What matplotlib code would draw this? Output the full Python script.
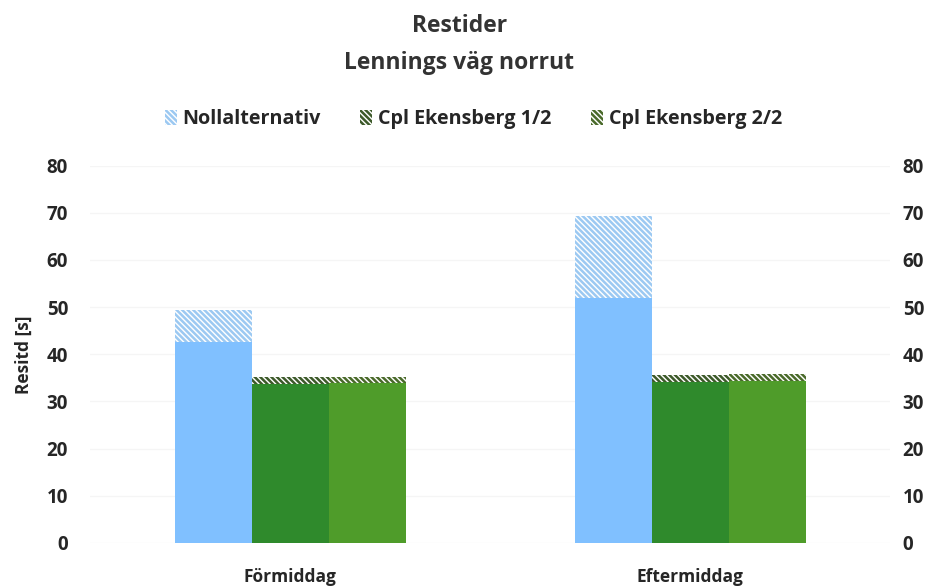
import matplotlib
matplotlib.use("Agg")
import matplotlib.pyplot as plt
import numpy as np
from matplotlib.patches import Patch

categories = ["Förmiddag", "Eftermiddag"]
series = ["Nollalternativ", "Cpl Ekensberg 1/2", "Cpl Ekensberg 2/2"]
base_values = {
    "Nollalternativ": [42.7, 52.0],
    "Cpl Ekensberg 1/2": [33.8, 34.2],
    "Cpl Ekensberg 2/2": [34.0, 34.3],
}
total_values = {
    "Nollalternativ": [49.4, 69.3],
    "Cpl Ekensberg 1/2": [35.1, 35.7],
    "Cpl Ekensberg 2/2": [35.2, 35.9],
}
yticks = [0, 10, 20, 30, 40, 50, 60, 70, 80]

solid_colors = ["#80c0ff", "#2f8a2c", "#4f9c2a"]
hatch_colors = ["#9cc9f2", "#3d5a2a", "#4a6a2a"]

plt.rcParams['font.family'] = ['Open Sans', 'DejaVu Sans']
plt.rcParams['hatch.linewidth'] = 1.8

fig = plt.figure(figsize=(9.41, 5.87), dpi=100)
ax = fig.add_axes([0.096, 0.075, 0.85, 0.643])
text_color = "#262626"
HATCH = "\\\\\\\\\\\\"

x = np.arange(len(categories))
w = 0.1925
offsets = [-w, 0, w]
for i, s in enumerate(series):
    base = np.array(base_values[s])
    top = np.array(total_values[s]) - base
    ax.bar(x + offsets[i], base, width=w, color=solid_colors[i], linewidth=0)
    ax.bar(x + offsets[i], top, width=w, bottom=base, color="white",
           edgecolor=hatch_colors[i], hatch=HATCH, linewidth=0)

ax.set_xlim(-0.5, 1.5)
ax.set_ylim(0, 80)
ax.set_yticks(yticks)
ax.set_xticks(x)
ax.set_xticklabels(categories, fontsize=12.5, fontweight='bold', color=text_color)
ax.tick_params(axis='both', length=0, labelsize=13.5, labelcolor=text_color)
for lab in ax.get_yticklabels():
    lab.set_fontweight('bold')
ax.tick_params(axis='y', pad=16)
ax.tick_params(axis='x', pad=18)
ax.tick_params(axis='x', labelsize=12.5)
ax.grid(axis='y', color="#f5f5f5", linewidth=1)
ax.set_axisbelow(True)
for sp in ax.spines.values():
    sp.set_visible(False)
ax.set_ylabel("Resitd [s]", fontsize=12.5, fontweight='bold', color=text_color, labelpad=10)

ax2 = ax.twinx()
ax2.set_ylim(0, 80)
ax2.set_yticks(yticks)
ax2.tick_params(axis='y', length=0, labelsize=13.5, labelcolor=text_color, pad=9)
for lab in ax2.get_yticklabels():
    lab.set_fontweight('bold')
for sp in ax2.spines.values():
    sp.set_visible(False)

fig.text(0.488, 0.955, "Restider", ha='center', va='center', fontsize=16.5,
         fontweight='bold', color="#333333")
fig.text(0.488, 0.892, "Lennings väg norrut", ha='center', va='center', fontsize=16.5,
         fontweight='bold', color="#333333")

handles = [Patch(facecolor="white", edgecolor=hatch_colors[i], hatch=HATCH, linewidth=0)
           for i in range(3)]
leg = fig.legend(handles, series, loc='center', bbox_to_anchor=(0.503, 0.797), ncol=3,
                 frameon=False, fontsize=14.2, handlelength=0.6, handleheight=0.8,
                 columnspacing=2.0, handletextpad=0.3)
for t in leg.get_texts():
    t.set_fontweight('bold')
    t.set_color(text_color)

fig.savefig("out.png", dpi=100)
